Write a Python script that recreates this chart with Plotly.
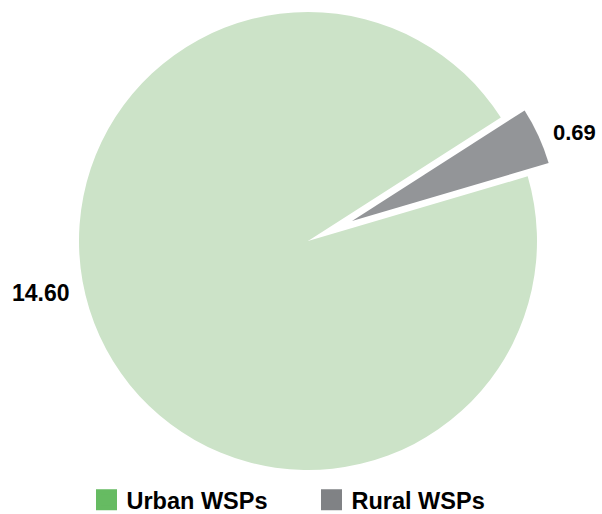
import plotly.graph_objects as go

# ---- data ----
labels = ["Urban WSPs", "Rural WSPs"]
values = [14.60, 0.69]
slice_colors = ["#cce3c8", "#939598"]
legend_colors = ["#66bb62", "#808285"]

# ---- geometry (pixels) ----
W, H = 602, 514
CX, CY, R = 308, 241, 229          # main pie centre / radius
PDX, PDY, PR = 44, -20, 205        # exploded slice offset / radius
ROTATION = 73.6
FONT = "Liberation Sans, Arial, Helvetica, sans-serif"


def domain(cx, cy, r):
    return dict(x=[(cx - r) / W, (cx + r) / W],
                y=[1 - (cy + r) / H, 1 - (cy - r) / H])


fig = go.Figure()

# main pie (urban slice visible, rural slot left empty)
fig.add_trace(go.Pie(
    labels=labels, values=values, sort=False,
    direction="clockwise", rotation=ROTATION,
    marker=dict(colors=[slice_colors[0], "rgba(0,0,0,0)"], line=dict(width=0)),
    textinfo="none", hoverinfo="label+value", showlegend=False,
    domain=domain(CX, CY, R),
))

# exploded rural slice
fig.add_trace(go.Pie(
    labels=labels, values=values, sort=False,
    direction="clockwise", rotation=ROTATION,
    marker=dict(colors=["rgba(0,0,0,0)", slice_colors[1]], line=dict(width=0)),
    textinfo="none", hoverinfo="label+value", showlegend=False,
    domain=domain(CX + PDX, CY + PDY, PR),
))

# legend entries
for name, col in zip(labels, legend_colors):
    fig.add_trace(go.Scatter(
        x=[None], y=[None], mode="markers", name=name,
        marker=dict(symbol="square", size=16, color=col,
                    line=dict(color=col, width=5)),
    ))

# value labels
fig.add_annotation(x=72 / W, y=1 - 293 / H, xref="paper", yref="paper",
                   xanchor="right", yanchor="middle", showarrow=False,
                   text=f"{values[0]:.2f}",
                   font=dict(family=FONT, size=23, color="#000", weight="bold"))
fig.add_annotation(x=598 / W, y=1 - 133 / H, xref="paper", yref="paper",
                   xanchor="right", yanchor="middle", showarrow=False,
                   text=f"{values[1]:.2f}",
                   font=dict(family=FONT, size=22, color="#000", weight="bold"))

fig.update_layout(
    width=W, height=H,
    margin=dict(l=0, r=0, t=0, b=0, autoexpand=False),
    paper_bgcolor="white", plot_bgcolor="white",
    xaxis=dict(visible=False), yaxis=dict(visible=False),
    showlegend=True,
    legend=dict(orientation="h", x=86.5 / W, xanchor="left",
                y=1 - 500 / H, yanchor="middle",
                entrywidth=180, entrywidthmode="pixels",
                font=dict(family=FONT, size=23.5, color="#000", weight="bold"),
                bgcolor="rgba(0,0,0,0)"),
)

fig.write_html("out.html",
               config={"displayModeBar": False},
               post_script="document.body.style.margin='0';document.body.style.overflow='hidden';")
